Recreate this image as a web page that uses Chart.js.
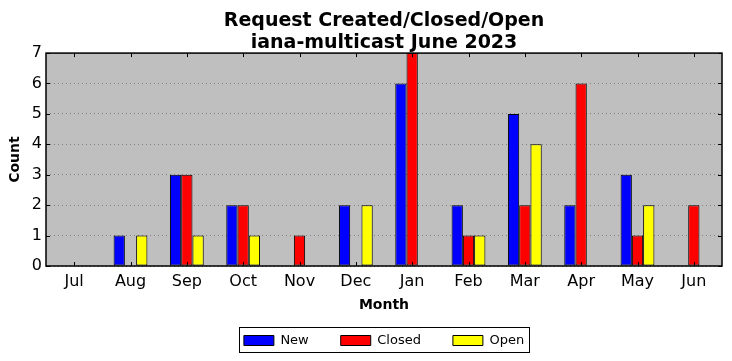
<!DOCTYPE html>
<html>
<head>
<meta charset="utf-8">
<script src="https://cdn.jsdelivr.net/npm/chart.js@4.4.0/dist/chart.umd.min.js"></script>
<style>
  html, body { margin: 0; background: #ffffff; }
  canvas { display: block; }
</style>
</head>
<body>
<canvas id="requestChart" width="732" height="361"></canvas>
<script>
const months = ["Jul", "Aug", "Sep", "Oct", "Nov", "Dec", "Jan", "Feb", "Mar", "Apr", "May", "Jun"];
const newCounts = [0, 1, 3, 2, 0, 2, 6, 2, 5, 2, 3, 0];
const closedCounts = [0, 0, 3, 2, 1, 0, 7, 1, 2, 6, 1, 2];
const openCounts = [0, 1, 1, 1, 0, 2, 0, 1, 4, 0, 2, 0];
const countMax = 7;

Chart.defaults.font.family = "'DejaVu Sans', sans-serif";
Chart.defaults.color = "#000000";

// matplotlib-style axes: grey face, black frame, short inward ticks on every side
const axesFrame = {
  id: "axesFrame",
  beforeDraw(chart) {
    const { ctx, chartArea: a } = chart;
    ctx.save();
    ctx.fillStyle = "#bfbfbf";
    ctx.fillRect(a.left, a.top, a.right - a.left, a.bottom - a.top);
    ctx.restore();
  },
  afterDatasetsDraw(chart) {
    const { ctx, chartArea: a, scales } = chart;
    ctx.save();
    ctx.strokeStyle = "#000000";
    ctx.lineWidth = 1;
    ctx.beginPath();
    months.forEach((m, i) => {
      const x = Math.round(scales.x.getPixelForValue(i)) + 0.5;
      ctx.moveTo(x, a.bottom); ctx.lineTo(x, a.bottom - 4);
      ctx.moveTo(x, a.top); ctx.lineTo(x, a.top + 4);
    });
    for (let v = 0; v <= countMax; v++) {
      const y = Math.round(scales.y.getPixelForValue(v)) + 0.5;
      ctx.moveTo(a.left, y); ctx.lineTo(a.left + 4, y);
      ctx.moveTo(a.right, y); ctx.lineTo(a.right - 4, y);
    }
    ctx.stroke();
    ctx.lineWidth = 1.5;
    ctx.strokeRect(a.left, a.top, a.right - a.left, a.bottom - a.top);
    ctx.restore();
  }
};

const legendFrame = {
  id: "legendFrame",
  afterDraw(chart) {
    const boxes = chart.legend.legendHitBoxes;
    if (!boxes || !boxes.length) return;
    const first = boxes[0];
    const last = boxes[boxes.length - 1];
    const left = first.left - 5;
    const right = last.left + last.width + 5;
    const top = first.top - 7;
    const { ctx } = chart;
    ctx.save();
    ctx.strokeStyle = "#000000";
    ctx.lineWidth = 1;
    ctx.strokeRect(Math.round(left) + 0.5, Math.round(top) + 0.5, Math.round(right - left), 25);
    ctx.restore();
  }
};

const barStyle = { borderColor: "#000000", borderWidth: 1, borderSkipped: false };

new Chart(document.getElementById("requestChart"), {
  type: "bar",
  data: {
    labels: months,
    datasets: [
      { label: "New", data: newCounts, backgroundColor: "#0000ff", ...barStyle },
      { label: "Closed", data: closedCounts, backgroundColor: "#ff0000", ...barStyle },
      { label: "Open", data: openCounts, backgroundColor: "#ffff00", ...barStyle }
    ]
  },
  options: {
    responsive: false,
    animation: false,
    layout: { padding: { left: 0, right: 10, top: 0, bottom: 4 } },
    datasets: { bar: { categoryPercentage: 0.6, barPercentage: 1.0 } },
    plugins: {
      title: {
        display: true,
        fullSize: false,
        text: ["Request Created/Closed/Open", "iana-multicast June 2023"],
        font: { size: 19, weight: "bold", lineHeight: 1.16 },
        color: "#000000",
        padding: { top: 10, bottom: -1 }
      },
      legend: {
        position: "bottom",
        fullSize: false,
        labels: {
          boxWidth: 30,
          boxHeight: 10,
          padding: 32,
          font: { size: 13 },
          color: "#000000"
        }
      },
      tooltip: { enabled: false }
    },
    scales: {
      x: {
        grid: { display: false, drawTicks: false },
        border: { display: false },
        ticks: { padding: 6, font: { size: 16 }, color: "#000000", maxRotation: 0 },
        title: {
          display: true,
          text: "Month",
          font: { size: 14, weight: "bold", lineHeight: 1.2 },
          padding: { top: 0, bottom: -12 }
        },
        afterFit(axis) { axis.height = 36; }
      },
      y: {
        min: 0,
        max: countMax,
        grid: { color: "#808080", lineWidth: 1, drawTicks: false },
        border: { display: false, dash: [1, 3] },
        ticks: { stepSize: 1, padding: 4, font: { size: 16 }, color: "#000000" },
        title: {
          display: true,
          text: "Count",
          font: { size: 14, weight: "bold", lineHeight: 1.2 },
          padding: { top: 7, bottom: 0 }
        },
        afterFit(axis) { axis.width = 46; }
      }
    }
  },
  plugins: [axesFrame, legendFrame]
});
</script>
</body>
</html>
